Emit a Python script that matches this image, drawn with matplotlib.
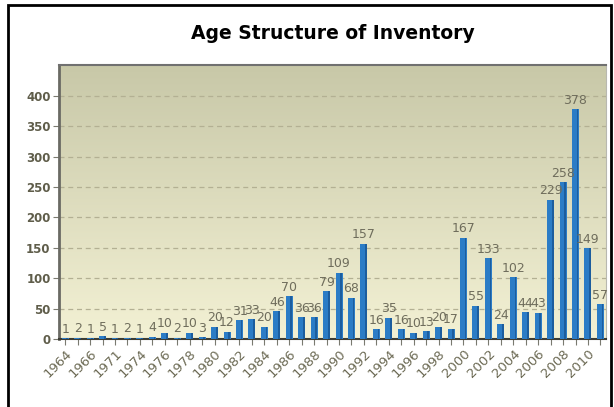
import numpy as np
import matplotlib.pyplot as plt
from matplotlib.patches import Rectangle

# inventory count per model year
years = ['1964', '1965', '1966', '1968', '1971', '1972', '1974', '1975', '1976', '1977',
         '1978', '1979', '1980', '1981', '1982', '1983', '1984', '1985', '1986', '1987',
         '1988', '1989', '1990', '1991', '1992', '1993', '1994', '1995', '1996', '1997',
         '1998', '1999', '2000', '2001', '2002', '2003', '2004', '2005', '2006', '2007',
         '2008', '2009', '2010', '2011']
counts = [1, 2, 1, 5, 1, 2, 1, 4, 10, 2,
          10, 3, 20, 12, 31, 33, 20, 46, 70, 36,
          36, 79, 109, 68, 157, 16, 35, 16, 10, 13,
          20, 17, 167, 55, 133, 24, 102, 44, 43, 229,
          258, 378, 149, 57]
yticks = [0, 50, 100, 150, 200, 250, 300, 350, 400]

fig = plt.figure(figsize=(6.14, 4.07), dpi=100)
fig.patch.set_facecolor('white')

# black frame around the chart
fig.patches.append(Rectangle((8 / 614, -0.1), 603 / 614, 1.1 - 5 / 407,
                             transform=fig.transFigure, fill=False,
                             edgecolor='black', linewidth=2))

fig.text(0.542, 0.918, 'Age Structure of Inventory', ha='center', va='center',
         fontsize=13.5, fontweight='bold', family='DejaVu Sans', color='black')

ax = fig.add_axes([59 / 614, 1 - 339 / 407, 547 / 614, 274 / 407])
x = np.arange(len(years))
ax.set_xlim(-0.5, len(years) - 0.55)
ax.set_ylim(0, 451)

# vertical gradient background
grad = np.linspace(0, 1, 256).reshape(-1, 1)
top = np.array([200, 200, 168]) / 255
bot = np.array([243, 241, 212]) / 255
img = bot + (top - bot) * grad
ax.imshow(img[:, None, :].repeat(2, axis=1), aspect='auto', origin='lower',
          extent=[-0.5, len(years) - 0.55, 0, 451], zorder=0)

for yv in yticks[1:]:
    ax.axhline(yv, color='#b3b093', lw=0.9, ls=(0, (4, 3)), zorder=1)

# bars with a darker right face
ax.bar(x, counts, width=0.56, color='#2b7cc6', zorder=3)
ax.bar(x + 0.17, counts, width=0.14, color='#1c5d9e', zorder=4)

for xi, c in zip(x, counts):
    ax.text(xi, c + 4, str(c), ha='center', va='bottom', fontsize=9,
            color='#6f6d5c', zorder=5)

ax.set_yticks(yticks)
ax.set_yticklabels([str(v) for v in yticks], fontsize=8.5, fontweight='bold',
                   color='#5f5d4a')
ax.set_xticks(x)
ax.set_xticklabels([y if i % 2 == 0 else '' for i, y in enumerate(years)],
                   rotation=45, ha='right', rotation_mode='anchor',
                   fontsize=9.5, color='#6c6a54')
ax.tick_params(axis='both', length=4, color='#7a7a70', width=0.8, pad=2)

ax.spines['left'].set_color('#6a6a64')
ax.spines['left'].set_linewidth(2)
ax.spines['top'].set_color('#707070')
ax.spines['top'].set_linewidth(1.5)
ax.spines['bottom'].set_color('#3c3c34')
ax.spines['bottom'].set_linewidth(1.5)
ax.spines['right'].set_color('#b8b8b0')
ax.spines['right'].set_linewidth(0.8)

fig.savefig('out.png', dpi=100)
